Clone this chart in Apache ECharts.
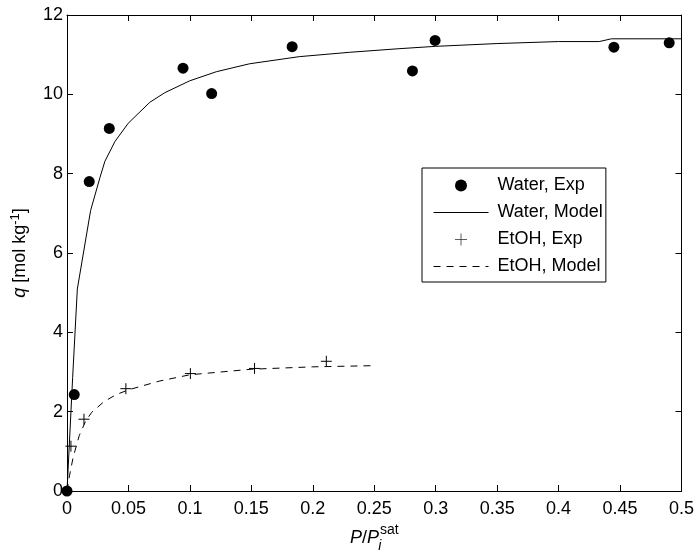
<!DOCTYPE html>
<html>
<head>
<meta charset="utf-8">
<script src="https://cdn.jsdelivr.net/npm/echarts@6/dist/echarts.min.js"></script>
<style>
  html, body { margin: 0; padding: 0; background: #fff; }
  #chart { width: 697px; height: 558px; }
</style>
</head>
<body>
<div id="chart"></div>
<script>
// Adsorption isotherms: water and ethanol uptake vs. relative pressure
const waterExpP = [0, 0.0059, 0.0181, 0.0344, 0.0944, 0.1177, 0.1832, 0.2811, 0.2995, 0.445, 0.490];
const waterExpQ = [0, 2.43, 7.80, 9.14, 10.66, 10.02, 11.20, 10.59, 11.36, 11.19, 11.30];

const waterModelP = [0, 0.0046, 0.0084, 0.0192, 0.0268, 0.0308, 0.039, 0.0498, 0.0674, 0.0795, 0.0998,
                     0.1215, 0.1485, 0.189, 0.23, 0.27, 0.30, 0.35, 0.40, 0.433, 0.443, 0.5];
const waterModelQ = [0, 2.86, 5.09, 7.07, 7.90, 8.31, 8.81, 9.27, 9.80, 10.04, 10.34,
                     10.57, 10.77, 10.95, 11.06, 11.15, 11.21, 11.28, 11.33, 11.33, 11.40, 11.40];

const etohExpP = [0.0032, 0.0138, 0.0479, 0.1004, 0.1526, 0.211];
const etohExpQ = [1.13, 1.81, 2.58, 2.96, 3.09, 3.27];

const etohModelP = [0, 0.002, 0.005, 0.01, 0.015, 0.02, 0.03, 0.04, 0.05, 0.075, 0.1, 0.15, 0.2, 0.25];
const etohModelQ = [0, 0.38, 0.85, 1.40, 1.75, 1.98, 2.25, 2.43, 2.55, 2.77, 2.93, 3.07, 3.13, 3.16];

const xTicks = ['0', '0.05', '0.1', '0.15', '0.2', '0.25', '0.3', '0.35', '0.4', '0.45', '0.5'];
const yTicks = ['0', '2', '4', '6', '8', '10', '12'];

const seriesNames = ['Water, Exp', 'Water, Model', 'EtOH, Exp', 'EtOH, Model'];

const pairs = (xs, ys) => xs.map((x, i) => [x, ys[i]]);

const FONT = "'Liberation Sans', Arial, Helvetica, sans-serif";
const FS = 18;
const plusPath = 'path://M0,5.5H11M5.5,0V11';

const tickLabel = (list, step) => (v) => {
  const i = Math.round(v / step);
  return list[i] !== undefined ? list[i] : '';
};

const baseAxis = {
  axisLine: { show: true, onZero: false, lineStyle: { color: '#000', width: 1 } },
  axisTick: { show: true, inside: true, length: 6, lineStyle: { color: '#000', width: 1 } },
  splitLine: { show: false }
};

// line-only legend entries: hide the marker that line series put in their legend icon
const noMarker = { color: 'transparent', borderWidth: 0, opacity: 0 };

const chart = echarts.init(document.getElementById('chart'), null, { renderer: 'canvas' });

chart.setOption({
  backgroundColor: '#fff',
  animation: false,
  textStyle: { fontFamily: FONT },
  grid: { left: 67, right: 14, top: 15, bottom: 60, containLabel: false },
  xAxis: [
    Object.assign({}, baseAxis, {
      type: 'value', position: 'bottom', min: 0, max: 0.5, interval: 0.05,
      axisLabel: { color: '#000', fontSize: FS, fontFamily: FONT, margin: 9,
                   formatter: tickLabel(xTicks, 0.05) },
      name: '{it|P}{n|/}{it|P}{sub|i}{sup|sat}',
      nameLocation: 'middle', nameGap: 32,
      nameTextStyle: {
        color: '#000', fontFamily: FONT, fontSize: FS,
        rich: {
          it: { fontStyle: 'italic', fontSize: FS, fontFamily: FONT, color: '#000', lineHeight: 30, verticalAlign: 'middle' },
          n: { fontSize: FS, fontFamily: FONT, color: '#000', lineHeight: 30, verticalAlign: 'middle' },
          sub: { fontStyle: 'italic', fontSize: 14, fontFamily: FONT, color: '#000', width: 0, lineHeight: 14, verticalAlign: 'bottom', padding: [0, 0, 0, 1] },
          sup: { fontSize: 14, fontFamily: FONT, color: '#000', lineHeight: 14, verticalAlign: 'top' }
        }
      }
    }),
    Object.assign({}, baseAxis, {
      type: 'value', position: 'top', min: 0, max: 0.5, interval: 0.05,
      axisLabel: { show: false }
    })
  ],
  yAxis: [
    Object.assign({}, baseAxis, {
      type: 'value', position: 'left', min: 0, max: 12, interval: 2,
      axisLabel: { color: '#000', fontSize: FS, fontFamily: FONT, margin: 4,
                   formatter: tickLabel(yTicks, 2) },
      name: '{it|q} [mol kg{sup|-1}]',
      nameLocation: 'middle', nameGap: 36, nameRotate: 90,
      nameTextStyle: {
        color: '#000', fontFamily: FONT, fontSize: FS,
        rich: {
          it: { fontStyle: 'italic', fontSize: FS, fontFamily: FONT, color: '#000', lineHeight: 22, verticalAlign: 'middle' },
          sup: { fontSize: 13, fontFamily: FONT, color: '#000', lineHeight: 13, verticalAlign: 'top' }
        }
      }
    }),
    Object.assign({}, baseAxis, {
      type: 'value', position: 'right', min: 0, max: 12, interval: 2,
      axisLabel: { show: false }
    })
  ],
  legend: {
    data: [
      { name: seriesNames[0] },
      { name: seriesNames[1], itemStyle: noMarker },
      { name: seriesNames[2], itemStyle: { color: 'transparent', borderColor: '#333', borderWidth: 0.8 } },
      { name: seriesNames[3], itemStyle: noMarker }
    ],
    orient: 'vertical',
    left: 422, top: 168,
    padding: [7.5, 3, 5.5, 11],
    itemGap: 7,
    itemWidth: 55,
    itemHeight: 12,
    backgroundColor: '#fff',
    borderColor: '#000',
    borderWidth: 1,
    borderRadius: 0,
    lineStyle: { width: 1 },
    textStyle: { color: '#000', fontSize: FS, fontFamily: FONT, lineHeight: 20, padding: [0, 0, 0, 4] }
  },
  series: [
    {
      name: seriesNames[1], type: 'line', data: pairs(waterModelP, waterModelQ),
      symbol: 'none', showSymbol: false, smooth: false,
      lineStyle: { color: '#000', width: 1, type: 'solid' },
      itemStyle: { color: '#000' }, z: 2
    },
    {
      name: seriesNames[3], type: 'line', data: pairs(etohModelP, etohModelQ),
      symbol: 'none', showSymbol: false, smooth: false,
      lineStyle: { color: '#000', width: 1, type: [7, 6] },
      itemStyle: { color: '#000' }, z: 2
    },
    {
      name: seriesNames[0], type: 'scatter', data: pairs(waterExpP, waterExpQ),
      symbol: 'circle', symbolSize: 11,
      itemStyle: { color: '#000', opacity: 1 }, z: 3
    },
    {
      name: seriesNames[2], type: 'scatter', data: pairs(etohExpP, etohExpQ),
      symbol: plusPath, symbolSize: 11,
      itemStyle: { color: 'transparent', borderColor: '#000', borderWidth: 1, opacity: 1 }, z: 3
    }
  ]
});
</script>
</body>
</html>
